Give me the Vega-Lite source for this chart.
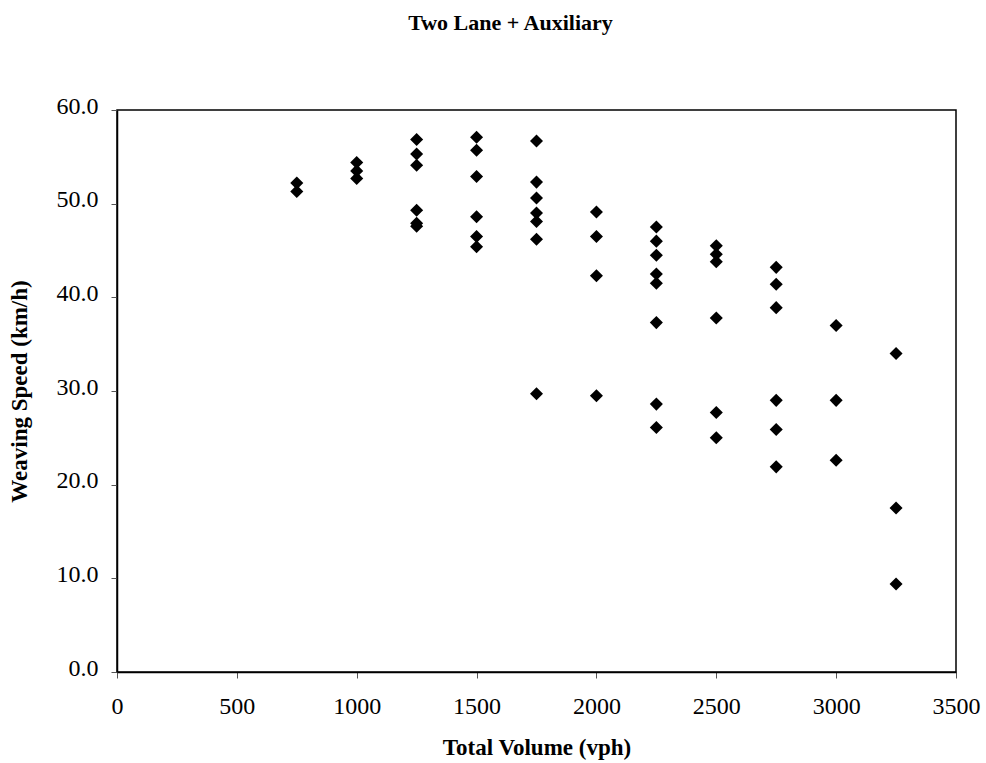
{
  "$schema": "https://vega.github.io/schema/vega-lite/v6.json",
  "width": 839,
  "height": 562,
  "autosize": "none",
  "padding": {"left": 117, "top": 110, "right": 30, "bottom": 91},
  "background": "white",
  "title": {
    "text": "Two Lane + Auxiliary",
    "font": "Liberation Serif",
    "fontSize": 22,
    "fontWeight": "bold",
    "color": "black",
    "anchor": "middle",
    "offset": 59,
    "dx": -26
  },
  "config": {
    "view": {"stroke": "black", "strokeWidth": 1.5},
    "axis": {
      "labelFont": "Liberation Serif",
      "titleFont": "Liberation Serif",
      "labelColor": "black",
      "titleColor": "black",
      "labelFlush": false,
      "grid": false,
      "domainColor": "black",
      "domainWidth": 1.5,
      "tickColor": "#555",
      "tickSize": 6,
      "tickWidth": 1
    }
  },
  "data": {
    "values": [
      {"volume": 750, "speed": 52.2},
      {"volume": 750, "speed": 51.3},
      {"volume": 1000, "speed": 54.4},
      {"volume": 1000, "speed": 53.5},
      {"volume": 1000, "speed": 52.7},
      {"volume": 1250, "speed": 56.85},
      {"volume": 1250, "speed": 55.3},
      {"volume": 1250, "speed": 54.1},
      {"volume": 1250, "speed": 49.3},
      {"volume": 1250, "speed": 47.9},
      {"volume": 1250, "speed": 47.6},
      {"volume": 1500, "speed": 57.1},
      {"volume": 1500, "speed": 55.7},
      {"volume": 1500, "speed": 52.9},
      {"volume": 1500, "speed": 48.6},
      {"volume": 1500, "speed": 46.5},
      {"volume": 1500, "speed": 45.4},
      {"volume": 1750, "speed": 56.7},
      {"volume": 1750, "speed": 52.3},
      {"volume": 1750, "speed": 50.6},
      {"volume": 1750, "speed": 49.0},
      {"volume": 1750, "speed": 48.1},
      {"volume": 1750, "speed": 46.2},
      {"volume": 1750, "speed": 29.7},
      {"volume": 2000, "speed": 49.1},
      {"volume": 2000, "speed": 46.5},
      {"volume": 2000, "speed": 42.3},
      {"volume": 2000, "speed": 29.5},
      {"volume": 2250, "speed": 47.5},
      {"volume": 2250, "speed": 46.0},
      {"volume": 2250, "speed": 44.5},
      {"volume": 2250, "speed": 42.5},
      {"volume": 2250, "speed": 41.5},
      {"volume": 2250, "speed": 37.3},
      {"volume": 2250, "speed": 28.6},
      {"volume": 2250, "speed": 26.1},
      {"volume": 2500, "speed": 45.5},
      {"volume": 2500, "speed": 44.6},
      {"volume": 2500, "speed": 43.8},
      {"volume": 2500, "speed": 37.8},
      {"volume": 2500, "speed": 27.7},
      {"volume": 2500, "speed": 25.0},
      {"volume": 2750, "speed": 43.2},
      {"volume": 2750, "speed": 41.4},
      {"volume": 2750, "speed": 38.9},
      {"volume": 2750, "speed": 29.0},
      {"volume": 2750, "speed": 25.9},
      {"volume": 2750, "speed": 21.9},
      {"volume": 3000, "speed": 37.0},
      {"volume": 3000, "speed": 29.0},
      {"volume": 3000, "speed": 22.6},
      {"volume": 3250, "speed": 34.0},
      {"volume": 3250, "speed": 17.5},
      {"volume": 3250, "speed": 9.4}
    ]
  },
  "mark": {"type": "point", "shape": "diamond", "filled": true, "color": "black", "opacity": 1, "size": 170},
  "encoding": {
    "x": {
      "field": "volume",
      "type": "quantitative",
      "title": "Total Volume (vph)",
      "scale": {"domain": [0, 3500], "nice": false},
      "axis": {
        "values": [0, 500, 1000, 1500, 2000, 2500, 3000, 3500],
        "labelFontSize": 24,
        "labelPadding": 16,
        "titleFontSize": 23,
        "titleFontWeight": "bold",
        "titlePadding": 18,
        "format": "d"
      }
    },
    "y": {
      "field": "speed",
      "type": "quantitative",
      "title": "Weaving Speed (km/h)",
      "scale": {"domain": [0, 60], "nice": false},
      "axis": {
        "values": [0, 10, 20, 30, 40, 50, 60],
        "format": ".1f",
        "labelFontSize": 24,
        "labelPadding": 13,
        "labelOffset": -4,
        "titleFontSize": 23,
        "titleFontWeight": "bold",
        "titlePadding": 25
      }
    }
  }
}
